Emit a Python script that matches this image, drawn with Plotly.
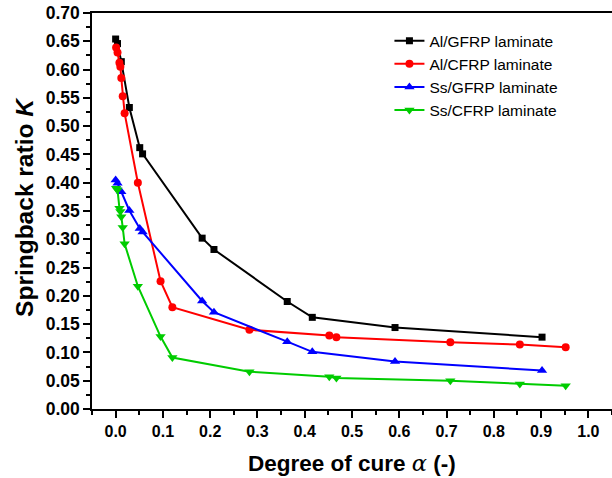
import plotly.graph_objects as go

# Degree of cure for GFRP-based laminates
alpha_gfrp = [0.000, 0.004, 0.012, 0.029, 0.051, 0.057, 0.183, 0.208, 0.363, 0.416, 0.591, 0.902]
k_al_gfrp = [0.654, 0.646, 0.614, 0.533, 0.462, 0.451, 0.302, 0.282, 0.190, 0.162, 0.144, 0.127]
k_ss_gfrp = [0.405, 0.399, 0.384, 0.351, 0.319, 0.313, 0.191, 0.171, 0.119, 0.101, 0.084, 0.068]

# Degree of cure for CFRP-based laminates
alpha_cfrp = [0.001, 0.004, 0.008, 0.010, 0.012, 0.015, 0.019, 0.047, 0.095, 0.120,
              0.283, 0.452, 0.467, 0.708, 0.855, 0.952]
k_al_cfrp = [0.639, 0.630, 0.612, 0.605, 0.585, 0.553, 0.523, 0.400, 0.226, 0.180,
             0.140, 0.130, 0.127, 0.118, 0.114, 0.109]
k_ss_cfrp = [0.390, 0.387, 0.355, 0.349, 0.340, 0.321, 0.292, 0.217, 0.128, 0.091,
             0.066, 0.057, 0.055, 0.050, 0.044, 0.041]

series_names = ["Al/GFRP laminate", "Al/CFRP laminate", "Ss/GFRP laminate", "Ss/CFRP laminate"]
x_title = "<b>Degree of cure </b><span style=\"font-family:'DejaVu Serif'\"><i>α</i></span><b> (-)</b>"
y_title = "<b>Springback ratio <i>K</i></b>"

FONT = "Liberation Sans, Arial, sans-serif"

fig = go.Figure()
specs = [
    (alpha_gfrp, k_al_gfrp, series_names[0], "#000000", "square", 7),
    (alpha_cfrp, k_al_cfrp, series_names[1], "#ff0000", "circle", 8),
    (alpha_gfrp, k_ss_gfrp, series_names[2], "#0000ff", "triangle-up", 9),
    (alpha_cfrp, k_ss_cfrp, series_names[3], "#00cc00", "triangle-down", 9),
]
for x, y, name, color, sym, size in specs:
    fig.add_trace(go.Scatter(
        x=x, y=y, name=name, mode="lines+markers",
        line=dict(color=color, width=2),
        marker=dict(symbol=sym, size=size, color=color),
    ))

fig.update_layout(
    width=612, height=478,
    margin=dict(l=92, r=0, t=13, b=69),
    paper_bgcolor="white", plot_bgcolor="white",
    font=dict(family=FONT, color="black"),
    showlegend=True,
    legend=dict(
        x=0.572, y=0.972, xanchor="left", yanchor="top",
        bgcolor="rgba(0,0,0,0)",
        font=dict(family=FONT, size=15.5, color="black"),
        tracegroupgap=0,
    ),
    xaxis=dict(
        range=[-0.05, 1.05], tick0=0, dtick=0.1, tickformat=".1f",
        automargin=False,
        showgrid=False, zeroline=False,
        showline=True, linecolor="black", linewidth=1.5, mirror=True,
        ticks="outside", ticklen=7, tickwidth=1.5, tickcolor="black",
        minor=dict(ticks="outside", ticklen=4, tickwidth=1.5, tickcolor="black", dtick=0.05, tick0=0),
        tickfont=dict(family=FONT, size=16, color="black", weight="bold"),
    ),
    yaxis=dict(
        range=[0, 0.7], tick0=0, dtick=0.05, tickformat=".2f",
        automargin=False,
        showgrid=False, zeroline=False,
        showline=True, linecolor="black", linewidth=1.5,
        ticks="outside", ticklen=7, tickwidth=1.5, tickcolor="black",
        minor=dict(ticks="outside", ticklen=4, tickwidth=1.5, tickcolor="black", dtick=0.025, tick0=0),
        tickfont=dict(family=FONT, size=17.5, color="black", weight="bold"),
    ),
    annotations=[
        dict(text=x_title, xref="paper", yref="paper", x=0.5, y=-0.137,
             xanchor="center", yanchor="middle", showarrow=False,
             font=dict(family=FONT, size=22.5, color="black")),
        dict(text=y_title, xref="paper", yref="paper", x=-0.131, y=0.51,
             xanchor="center", yanchor="middle", showarrow=False, textangle=-90,
             font=dict(family=FONT, size=24.5, color="black")),
    ],
)

fig.write_html(
    "out.html",
    config={"displayModeBar": False},
    post_script="document.body.style.margin='0';document.body.style.padding='0';document.body.style.overflow='hidden';",
)
